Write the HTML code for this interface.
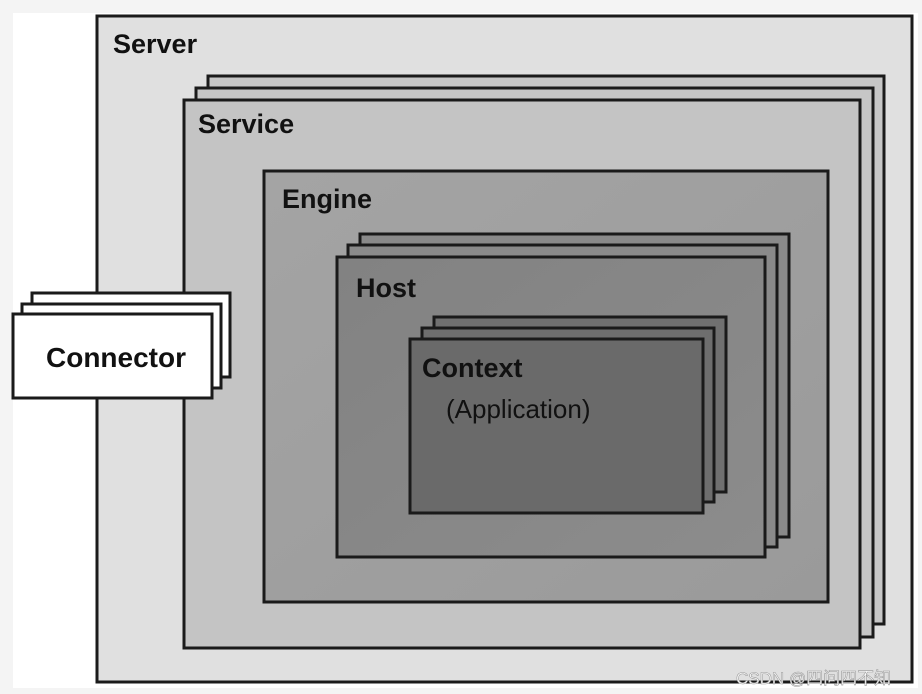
<!DOCTYPE html>
<html><head><meta charset="utf-8"><style>
html,body{margin:0;padding:0;background:#f4f4f4;}
svg{display:block}
.t{font-family:"Liberation Sans Narrow","Liberation Sans",sans-serif;font-weight:bold;fill:#111;}
</style></head><body>
<svg width="922" height="694" viewBox="0 0 922 694" xmlns="http://www.w3.org/2000/svg">
<defs>
<linearGradient id="ge" x1="0" y1="0" x2="1" y2="1"><stop offset="0" stop-color="#a4a4a4"/><stop offset="1" stop-color="#9a9a9a"/></linearGradient>
<linearGradient id="gh" x1="0" y1="0" x2="1" y2="1"><stop offset="0" stop-color="#828282"/><stop offset="1" stop-color="#8c8c8c"/></linearGradient>
</defs>
<rect x="13" y="13" width="905" height="675" fill="#fff"/>
<g stroke="#1a1a1a" stroke-width="3">
<rect x="97" y="16" width="815" height="666" fill="#e0e0e0"/>
<rect x="208" y="76" width="676" height="548" fill="#c6c6c6"/>
<rect x="196" y="88" width="677" height="549" fill="#c6c6c6"/>
<rect x="184" y="100" width="676" height="548" fill="#c4c4c4"/>
<rect x="264" y="171" width="564" height="431" fill="url(#ge)"/>
<rect x="360" y="234" width="429" height="303" fill="#8a8a8a"/>
<rect x="348" y="245" width="429" height="302" fill="#8a8a8a"/>
<rect x="337" y="257" width="428" height="300" fill="url(#gh)"/>
<rect x="434" y="317" width="292" height="175" fill="#707070"/>
<rect x="422" y="328" width="292" height="174" fill="#6e6e6e"/>
<rect x="410" y="339" width="293" height="174" fill="#6a6a6a"/>
<rect x="32" y="293" width="198" height="84" fill="#fff"/>
<rect x="22" y="304" width="199" height="84" fill="#fff"/>
<rect x="13" y="314" width="199" height="84" fill="#fff"/>
</g>
<text class="t" x="113" y="53" font-size="27">Server</text>
<text class="t" x="198" y="133" font-size="27">Service</text>
<text class="t" x="282" y="208" font-size="27">Engine</text>
<text class="t" x="356" y="297" font-size="27">Host</text>
<text class="t" x="422" y="377" font-size="27">Context</text>
<text class="t" x="446" y="418" font-size="26" font-weight="normal" style="font-weight:normal">(Application)</text>
<text class="t" x="46" y="367" font-size="28">Connector</text>
<text x="736" y="684" font-family="Liberation Sans,'Noto Sans CJK SC',sans-serif" font-size="17" fill="#fff" stroke="#999" stroke-width="0.6">CSDN @四问四不知</text>
</svg>
</body></html>
